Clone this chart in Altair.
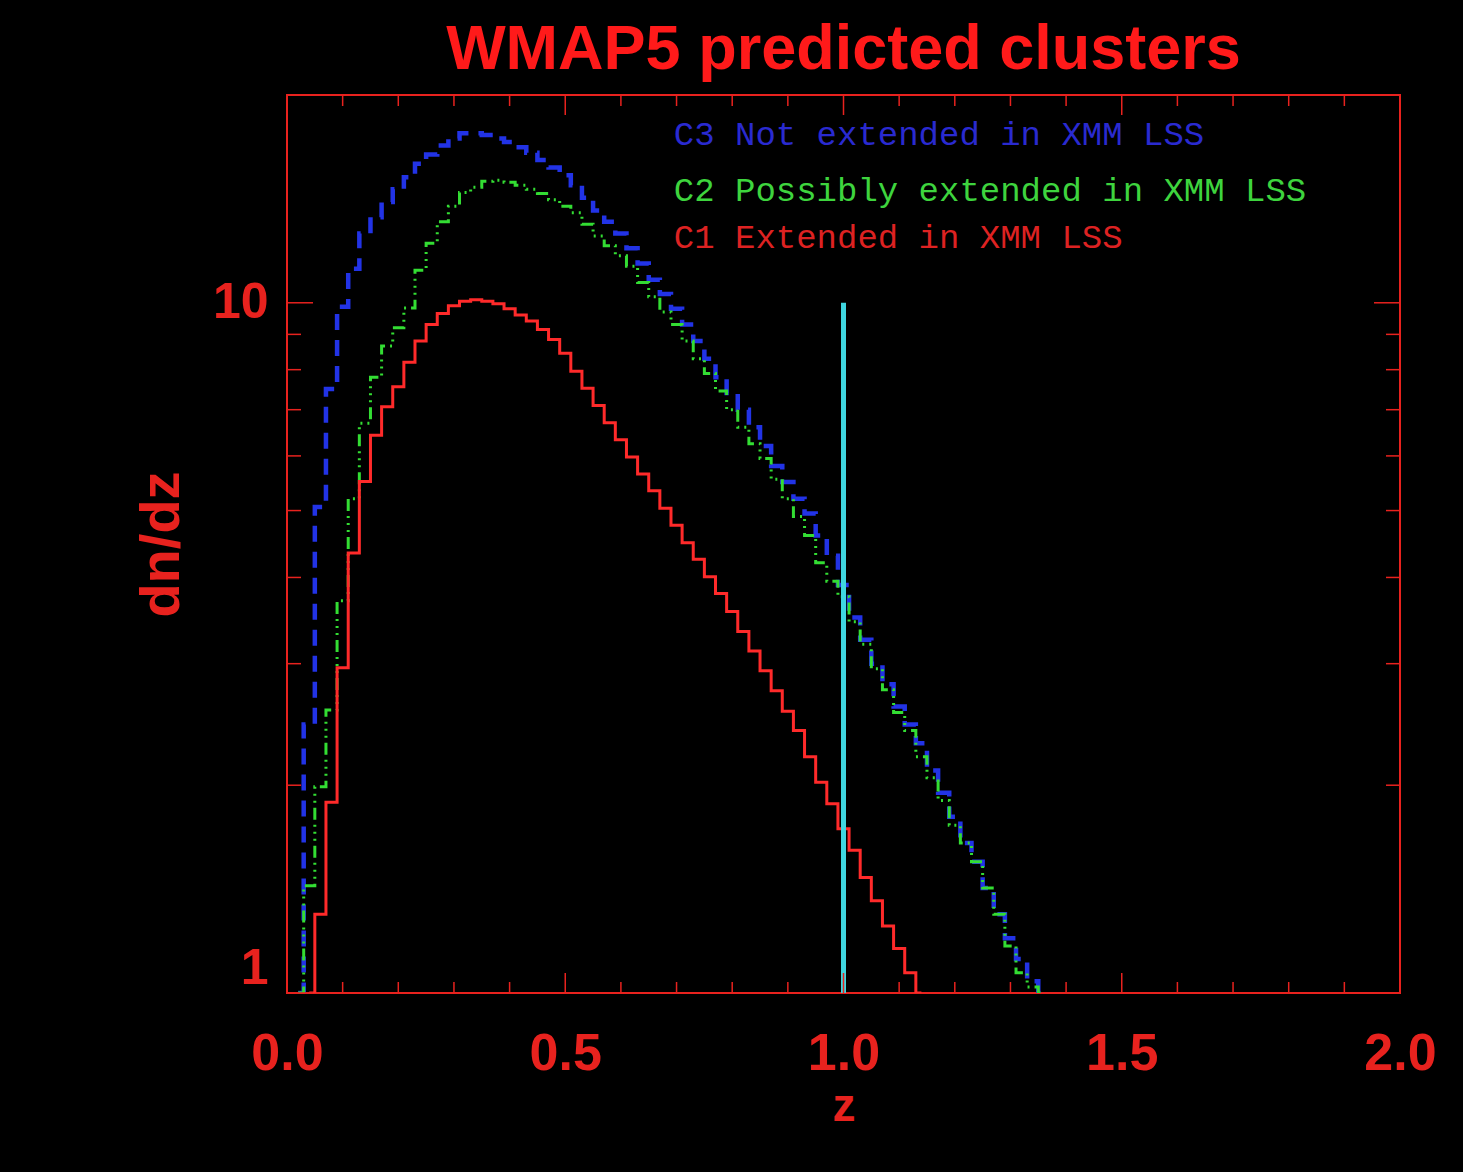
import altair as alt
import pandas as pd

# ---------------- data ----------------
z_bins = [round(0.02 * i, 2) for i in range(1, 69)]  # bin centres 0.02 .. 1.36

c3_not_extended = [
    1.0, 2.45, 5.06, 7.5, 9.87, 11.2, 12.6, 13.3, 14.0, 14.6,
    15.2, 15.9, 16.4, 16.9, 17.3, 17.6, 17.6, 17.5, 17.3, 17.1,
    16.8, 16.5, 16.1, 15.7, 15.3, 14.8, 14.2, 13.6, 13.1, 12.6,
    12.0, 11.4, 10.8, 10.3, 9.8, 9.3, 8.8, 8.3, 7.8, 7.4,
    7.0, 6.6, 6.2, 5.8, 5.5, 5.2, 4.95, 4.6, 4.3, 3.9,
    3.5, 3.25, 3.0, 2.8, 2.6, 2.45, 2.3, 2.1, 1.95, 1.8,
    1.65, 1.55, 1.42, 1.3, 1.2, 1.12, 1.04, 1.0,
]
c2_possibly_extended = [
    1.0, 1.43, 1.99, 2.57, 3.7, 5.2, 6.69, 7.8, 8.66, 9.2,
    9.83, 11.15, 12.2, 13.1, 13.8, 14.45, 14.7, 15.0, 15.05, 14.95,
    14.8, 14.6, 14.4, 14.1, 13.8, 13.5, 13.0, 12.5, 12.1, 11.7,
    11.3, 10.7, 10.2, 9.7, 9.3, 8.8, 8.3, 7.9, 7.45, 7.0,
    6.6, 6.25, 5.95, 5.55, 5.2, 4.9, 4.6, 4.2, 3.95, 3.75,
    3.45, 3.2, 2.95, 2.75, 2.55, 2.4, 2.2, 2.05, 1.9, 1.75,
    1.65, 1.55, 1.42, 1.3, 1.17, 1.07, 1.02, 1.0,
]
c1_extended = [
    None, 1.0, 1.30, 1.89, 2.96, 4.34, 5.51, 6.43, 7.07, 7.56,
    8.2, 8.8, 9.3, 9.65, 9.9, 10.05, 10.1, 10.05, 9.97, 9.8,
    9.6, 9.41, 9.15, 8.85, 8.45, 7.96, 7.52, 7.10, 6.70, 6.33,
    5.98, 5.65, 5.34, 5.04, 4.76, 4.49, 4.25, 4.01, 3.79, 3.57,
    3.34, 3.13, 2.93, 2.74, 2.56, 2.40, 2.20, 2.02, 1.88, 1.73,
    1.61, 1.47, 1.36, 1.25, 1.16, 1.07, 1.0, None,
    None, None, None, None, None, None, None, None, None, None,
]

legend_labels = [
    "C3 Not extended in XMM LSS",
    "C2 Possibly extended in XMM LSS",
    "C1 Extended in XMM LSS",
]
legend_z = [0.695, 0.695, 0.695]
legend_v = [16.93, 14.04, 12.01]
legend_colors = ["#2a2ad0", "#3ed43e", "#dd2222"]

vline_z = [1.0]
vline_lo = [1.0]
vline_hi = [10.0]

x_major = [0.0, 0.5, 1.0, 1.5, 2.0]
x_minor = [0.1, 0.2, 0.3, 0.4, 0.6, 0.7, 0.8, 0.9, 1.1, 1.2, 1.3, 1.4,
           1.6, 1.7, 1.8, 1.9]
y_major = [1, 10]
y_minor = [2, 3, 4, 5, 6, 7, 8, 9]

# ---------------- styling ----------------
W, H = 1113, 898
RED = "#e8221e"
BLUE = "#2233e6"
GREEN = "#33dd33"
CYAN = "#3fd6e0"


def series_df(vals):
    rows = [(z, v) for z, v in zip(z_bins, vals) if v is not None]
    return pd.DataFrame(rows, columns=["z", "v"])


xscale = alt.Scale(domain=[0, 2], nice=False, zero=False)
yscale = alt.Scale(type="log", domain=[1, 20], nice=False)

xaxis = alt.Axis(
    values=x_major, format=".1f", title="z", grid=False, ticks=False,
    domain=False, labelFontSize=52, labelFont="Liberation Sans",
    labelFontWeight="bold", labelColor=RED, labelPadding=35,
    titleFontSize=46, titleFont="Liberation Sans", titleFontWeight="bold",
    titleColor=RED, titleX=W / 2, titleY=127, titleBaseline="alphabetic",
    titleAlign="center", labelFlush=False,
)
yaxis = alt.Axis(
    values=y_major, format="d", title="dn/dz", grid=False, ticks=False,
    domain=False, labelFontSize=50, labelFont="Liberation Sans",
    labelFontWeight="bold", labelColor=RED, labelPadding=19,
    labelBaseline={"condition": {"test": "datum.value <= 1", "value": "bottom"},
                   "value": "middle"},
    titleFontSize=56, titleFont="Liberation Sans", titleFontWeight="bold",
    titleColor=RED, titleAngle=270, titleX=-109, titleY=H / 2,
    titleBaseline="alphabetic", titleAlign="center", labelFlush=False,
)

X = alt.X("z:Q", scale=xscale, axis=xaxis)
Y = alt.Y("v:Q", scale=yscale, axis=yaxis)

blue = alt.Chart(series_df(c3_not_extended)).mark_line(
    interpolate="step", color=BLUE, strokeWidth=4.5, strokeDash=[16, 10], clip=True
).encode(x=X, y=Y)

green = alt.Chart(series_df(c2_possibly_extended)).mark_line(
    interpolate="step", color=GREEN, strokeWidth=3,
    strokeDash=[12, 5, 2, 5, 2, 5, 2, 5], clip=True
).encode(x=X, y=Y)

red = alt.Chart(series_df(c1_extended)).mark_line(
    interpolate="step", color="#ff2a2a", strokeWidth=3, clip=True
).encode(x=X, y=Y)

vdf = pd.DataFrame({"z": vline_z, "v": vline_lo, "v2": vline_hi})
cyan = alt.Chart(vdf).mark_rule(color=CYAN, strokeWidth=5).encode(
    x=X, y=Y, y2="v2:Q"
)

xmaj = pd.DataFrame({"z": x_major})
xmin = pd.DataFrame({"z": x_minor})
ymaj = pd.DataFrame({"v": y_major})
ymin = pd.DataFrame({"v": y_minor})

tick_layers = []
for df, ln in [(xmaj, 20), (xmin, 11)]:
    tick_layers.append(alt.Chart(df).mark_rule(color=RED, strokeWidth=1.5).encode(
        x=X, y=alt.value(H), y2=alt.value(H - ln)))
    tick_layers.append(alt.Chart(df).mark_rule(color=RED, strokeWidth=1.5).encode(
        x=X, y=alt.value(0), y2=alt.value(ln)))
for df, ln in [(ymaj, 26), (ymin, 14)]:
    tick_layers.append(alt.Chart(df).mark_rule(color=RED, strokeWidth=1.5).encode(
        y=Y, x=alt.value(0), x2=alt.value(ln)))
    tick_layers.append(alt.Chart(df).mark_rule(color=RED, strokeWidth=1.5).encode(
        y=Y, x=alt.value(W), x2=alt.value(W - ln)))

ldf = pd.DataFrame({"z": legend_z, "v": legend_v, "label": legend_labels,
                    "col": legend_colors})
legend = alt.Chart(ldf).mark_text(
    align="left", baseline="alphabetic", font="Liberation Mono", fontSize=34
).encode(x=X, y=Y, text="label:N", color=alt.Color("col:N", scale=None))

chart = alt.layer(blue, green, red, cyan, *tick_layers, legend).properties(
    width=W, height=H,
    title=alt.TitleParams(
        "WMAP5 predicted clusters", fontSize=63, font="Liberation Sans",
        fontWeight="bold", color="#ff1a1a", anchor="middle", offset=12,
    ),
    autosize=alt.AutoSizeParams(type="none"),
    padding={"left": 287, "top": 95, "right": 63, "bottom": 179},
).configure(background="black").configure_view(
    stroke=RED, strokeWidth=2
)

chart.save("out.html", embed_options={"renderer": "svg", "actions": False})
